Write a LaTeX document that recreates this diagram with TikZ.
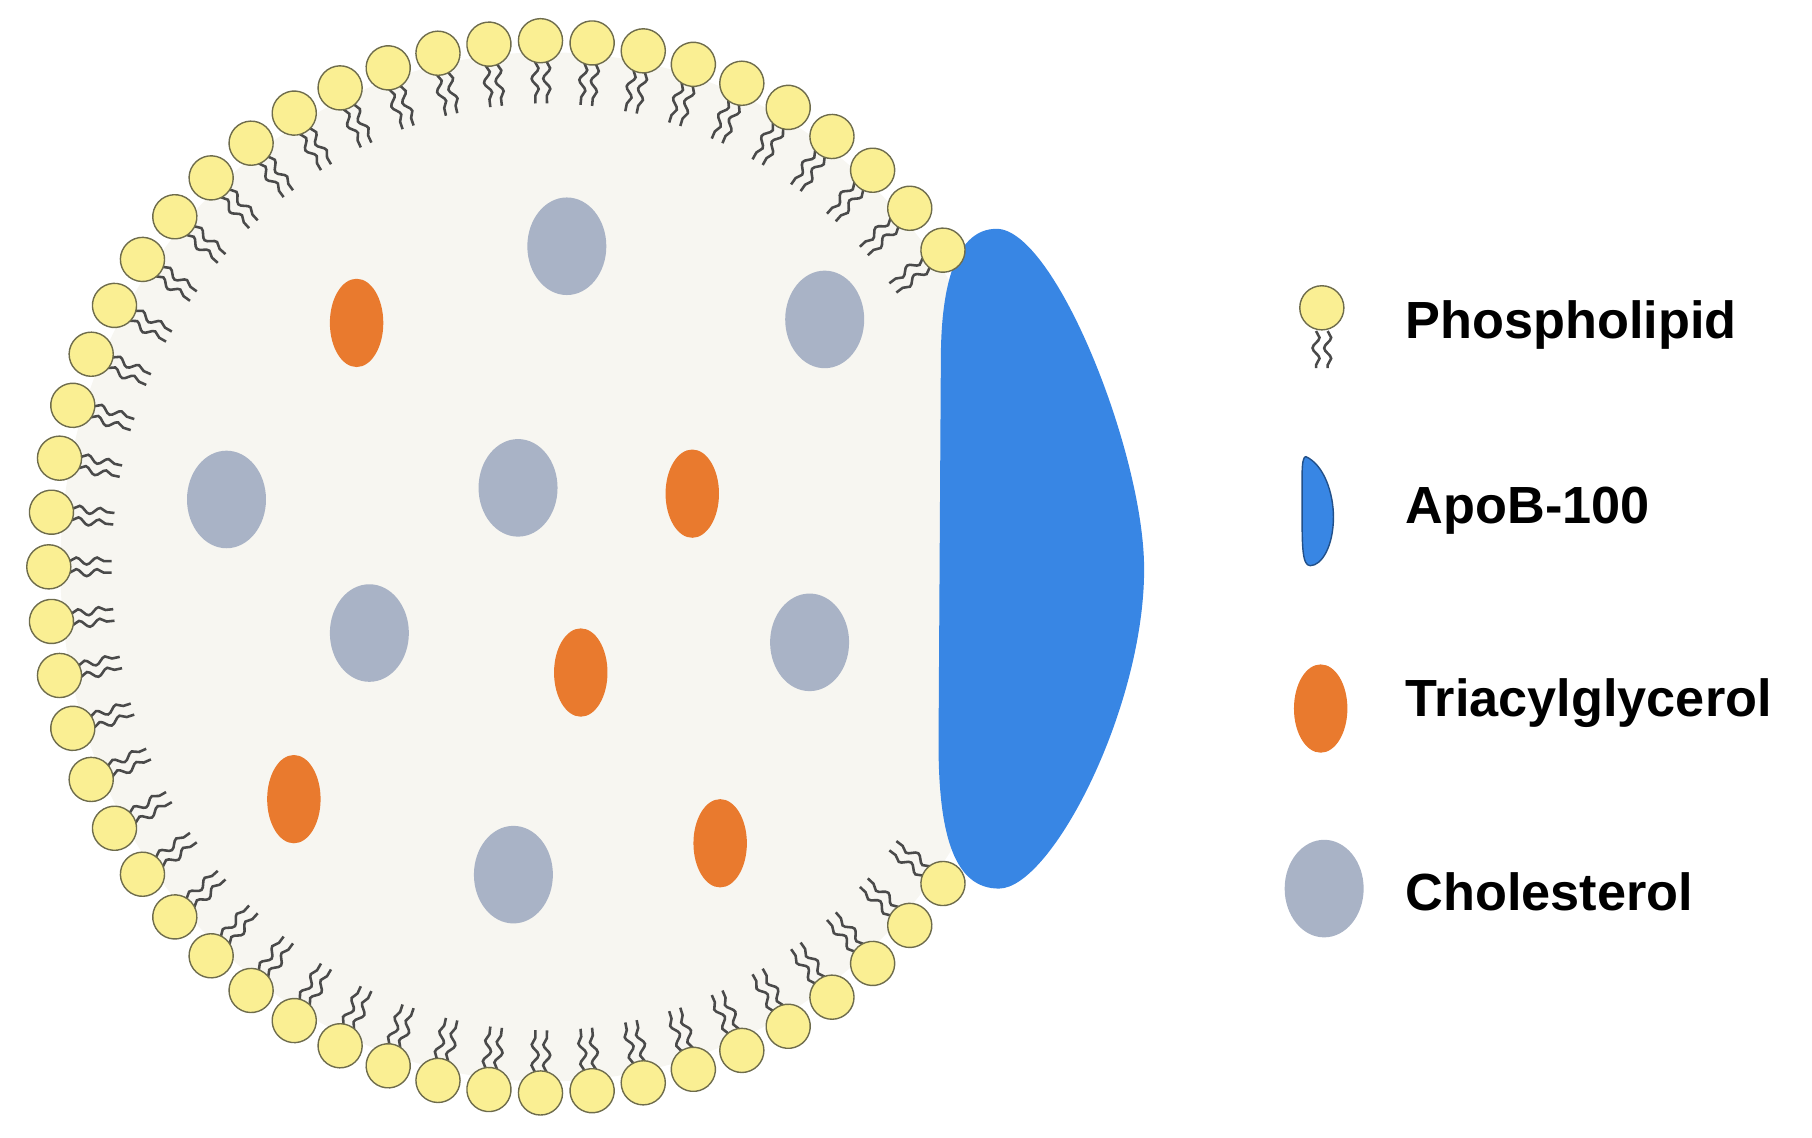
\documentclass[tikz,border=0pt]{standalone}
\usepackage{fontspec}
\setmainfont{Liberation Sans}
\usetikzlibrary{decorations.pathmorphing}
\definecolor{headY}{HTML}{FAEF93}
\definecolor{headE}{HTML}{6E6C4C}
\definecolor{core}{HTML}{F7F6F1}
\definecolor{apo}{HTML}{3886E4}
\definecolor{chol}{HTML}{A9B3C6}
\definecolor{tag}{HTML}{E97A2E}
\definecolor{tail}{HTML}{4A4A4A}
\begin{document}
\begin{tikzpicture}[x=1pt,y=1pt,
  head/.style={fill=headY,draw=headE,line width=1.2pt},
  tl/.style={draw=tail,line width=2.2pt,decorate,decoration={snake,segment length=18,amplitude=3}},
  ch/.style={fill=chol,draw=none},
  tg/.style={fill=tag,draw=none},
  lab/.style={anchor=west,font=\fontsize{45}{50}\selectfont\bfseries,inner sep=0pt}]
\useasboundingbox (0,0) rectangle (1560,-979);
\fill[core] (470,-488) ellipse [x radius=418, y radius=443];
% ApoB-100
\fill[apo] (858,-197) .. controls (908,-197) and (985,-390) .. (985,-490)
  .. controls (985,-610) and (905,-765) .. (860,-765)
  .. controls (822,-765) and (808,-720) .. (808,-640) -- (810,-310)
  .. controls (810,-240) and (825,-197) .. (858,-197);
% phospholipids
\foreach \i in {0,...,48}{
  \pgfmathsetmacro{\t}{37+\i*286/48}
  \begin{scope}[shift={({470+428*cos(\t)},{-488+453*sin(\t)})},rotate=\t]
    \draw[tl] (-18,5) -- (-54,5);
    \draw[tl] (-18,-5) -- (-54,-5);
    \draw[head] (0,0) circle (19);
  \end{scope}
}
% cholesterol
\foreach \x/\y in {488/212,710/275,195/430,446/420,318/545,697/553,442/753}
  \fill[ch] (\x,-\y) ellipse [x radius=34, y radius=42];
% triacylglycerol
\foreach \x/\y in {307/278,596/425,500/579,253/688,620/726}
  \fill[tg] (\x,-\y) ellipse [x radius=23, y radius=38];
% legend
\draw[tl] (1133,-285) -- (1133,-317);
\draw[tl] (1143,-285) -- (1143,-317);
\draw[head] (1138,-265) circle (19);
\filldraw[fill=apo,draw=apo!60!black,line width=1.2pt] (1124,-393) .. controls (1140,-400) and (1148,-425) .. (1148,-445)
  .. controls (1148,-470) and (1138,-487) .. (1128,-487) .. controls (1121,-487) and (1121,-470) .. (1121,-440) -- (1121,-410) .. controls (1121,-398) and (1122,-394) .. (1124,-393);
\fill[tg] (1137,-610) ellipse [x radius=23, y radius=38];
\fill[ch] (1140,-765) ellipse [x radius=34, y radius=42];
\node[lab] (l1) at (1210,-280) {Phospholipid};
\node[lab] (l2) at (1210,-440) {ApoB-100};
\node[lab] (l3) at (1210,-605) {Triacylglycerol};
\node[lab] (l4) at (1210,-768) {Cholesterol};
\end{tikzpicture}
\end{document}
